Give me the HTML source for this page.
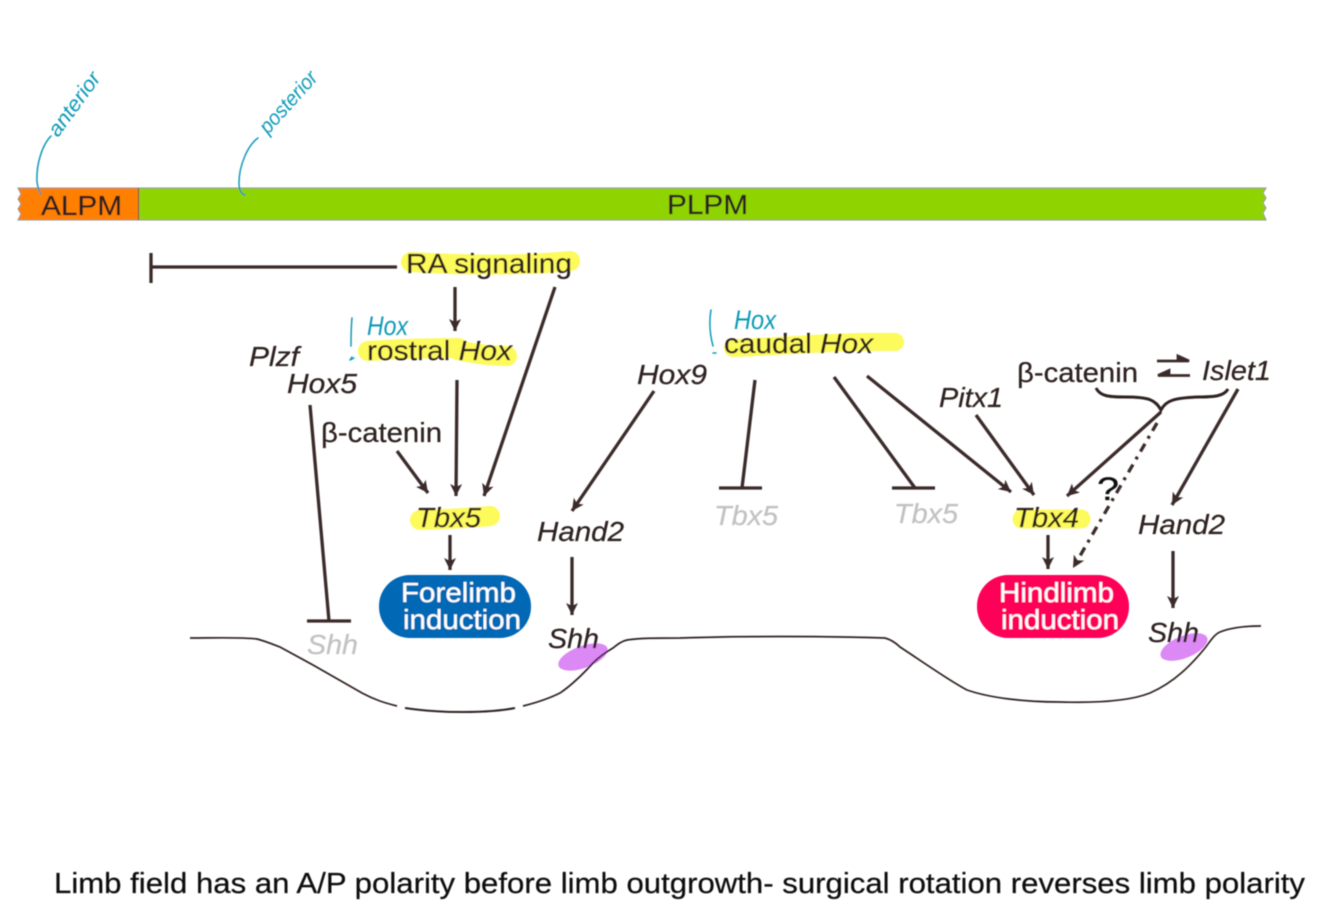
<!DOCTYPE html>
<html><head><meta charset="utf-8"><style>
html,body{margin:0;padding:0;background:#fff;width:1334px;height:922px;overflow:hidden}
svg{display:block}
text{font-family:"Liberation Sans",sans-serif;fill:#2e2220;stroke:#2e2220;stroke-width:.25}
.i{font-style:italic}
.g{fill:#c2c2c2;stroke:#c2c2c2;font-style:italic}
.w{fill:#fff;stroke:#fff}
.l{stroke:#3a2c2a;stroke-width:3.3;fill:none}
.b{stroke:#0f9ab8;stroke-width:1.5;fill:none;stroke-linecap:round;stroke-linejoin:round}
text.h{fill:#0f9ab8;stroke:none;font-style:italic}
.y{stroke:#fdfa5c;fill:none;stroke-linecap:round}
</style></head><body>
<svg width="1334" height="922" viewBox="0 0 1334 922" xmlns="http://www.w3.org/2000/svg">
<defs>
<filter id="s" x="-2%" y="-2%" width="104%" height="104%"><feGaussianBlur stdDeviation="0.55"/></filter>
<marker id="a" markerUnits="userSpaceOnUse" markerWidth="14" markerHeight="14" refX="12" refY="6" orient="auto"><path d="M0 0L12 6L0 12L3 6Z" fill="#3a2c2a"/></marker>
</defs>
<g filter="url(#s)">
<!-- bar -->
<path d="M18 188H139V220H18L21 214L18 209L21 204L18 199L21 194Z" fill="#ff7f00" stroke="#9a9288" stroke-width="1"/>
<path d="M139 188H1266L1263 193L1266 198L1263 203L1266 208L1263 213L1266 220H139Z" fill="#8fd400" stroke="#9a9288" stroke-width="1"/>
<line x1="138.500" y1="188" x2="138.500" y2="220" stroke="#7a5a20" stroke-width="1"/>
<text x="41" y="215" font-size="28" textLength="81" lengthAdjust="spacingAndGlyphs">ALPM</text>
<text x="667" y="214" font-size="28" textLength="81" lengthAdjust="spacingAndGlyphs">PLPM</text>

<!-- highlights -->
<path class="y" stroke-width="20" d="M411 262C460 265 520 266 570 261"/>
<path class="y" stroke-width="20" d="M368 351C400 349 430 348 458 348"/>
<path class="y" stroke-width="20" d="M458 350C475 354 490 356 507 356"/>
<path class="y" stroke-width="18" d="M733 348C790 346 840 341 895 342"/>
<path class="y" stroke-width="20" d="M420 520C450 519 480 517 490 516"/>
<path class="y" stroke-width="19" d="M1022 519H1081"/>

<!-- limb pills -->
<rect x="379" y="575" width="152" height="63" rx="31" fill="#0068b4"/>
<rect x="977" y="575" width="152" height="63" rx="31" fill="#ff0058"/>
<ellipse cx="583" cy="657" rx="26" ry="11" transform="rotate(-20 583 657)" fill="#dc88f5"/>
<ellipse cx="1184" cy="647" rx="25" ry="11" transform="rotate(-22 1184 647)" fill="#dc88f5"/>

<!-- RA inhibition -->
<path class="l" d="M151 267H397M151 253V283"/>
<!-- arrows -->
<path class="l" d="M455 287V331" marker-end="url(#a)"/>
<path class="l" d="M555 287L484 496" marker-end="url(#a)"/>
<path class="l" d="M457 380L456 496" marker-end="url(#a)"/>
<path class="l" d="M397 451L428 493" marker-end="url(#a)"/>
<path class="l" d="M450 535V570" marker-end="url(#a)"/>
<path class="l" d="M310 405L329 621M307 621H351"/>
<path class="l" d="M654 391L572 511" marker-end="url(#a)"/>
<path class="l" d="M572 557V615" marker-end="url(#a)"/>
<path class="l" d="M755 380L742 488M719 488H762"/>
<path class="l" d="M834 377L915 488M892 488H935"/>
<path class="l" d="M867 376L1011 492" marker-end="url(#a)"/>
<path class="l" d="M976 415L1034 495" marker-end="url(#a)"/>
<path class="l" d="M1161 412L1067 496" marker-end="url(#a)"/>
<path class="l" d="M1238 389L1172 505" marker-end="url(#a)"/>
<path class="l" d="M1048 535V569" marker-end="url(#a)"/>
<path class="l" d="M1173 551V608" marker-end="url(#a)"/>
<path d="M1157 423L1073 568" stroke="#3a2c2a" stroke-width="3.3" stroke-dasharray="9 6 3 6" fill="none" marker-end="url(#a)"/>
<!-- brace -->
<path d="M1096 388C1100 396 1108 397 1125 397C1150 397 1155 400 1161 410C1166 400 1175 398 1198 397C1215 397 1224 396 1228 389" fill="none" stroke="#2e2220" stroke-width="3"/>
<!-- equilibrium -->
<path d="M1157 361H1188M1178 356L1189 361H1178Z" stroke="#3a2c2a" stroke-width="2.800" fill="#3a2c2a"/>
<path d="M1190 375.500H1159M1169 370.500L1158 375.500H1169Z" stroke="#3a2c2a" stroke-width="2.800" fill="#3a2c2a"/>

<!-- surface -->
<path d="M190 638C215 638 240 637 257 639C265 641 272 644 280 647L313 665L362 693C375 700 385 703 397 706" fill="none" stroke="#2e2220" stroke-width="1.700"/>
<path d="M405 708C425 711 445 712 463 712C480 712 500 711 515 708" fill="none" stroke="#2e2220" stroke-width="2"/>
<path d="M523 706C535 703 548 699 560 693C572 685 583 674 593 663C600 656 606 652 613 648C618 644 622 641 627 640C640 638 655 638 680 638C740 636 820 636 885 638C892 640 896 643 900 647C920 660 945 678 967 690C990 698 1025 702 1060 702C1095 703 1130 701 1150 693C1175 682 1192 664 1205 648C1211 640 1215 634 1220 632C1230 628 1245 626 1261 626" fill="none" stroke="#2e2220" stroke-width="1.700"/>

<!-- labels -->
<text x="406" y="273" font-size="28" textLength="166" lengthAdjust="spacingAndGlyphs">RA signaling</text>
<text x="367" y="360" font-size="28" textLength="145" lengthAdjust="spacingAndGlyphs">rostral <tspan class="i">Hox</tspan></text>
<text x="724" y="353" font-size="28" textLength="149" lengthAdjust="spacingAndGlyphs">caudal <tspan class="i">Hox</tspan></text>
<text x="249" y="366" font-size="28" class="i" textLength="50" lengthAdjust="spacingAndGlyphs">Plzf</text>
<text x="287" y="393" font-size="28" class="i" textLength="70" lengthAdjust="spacingAndGlyphs">Hox5</text>
<text x="637" y="384" font-size="28" class="i" textLength="70" lengthAdjust="spacingAndGlyphs">Hox9</text>
<text x="321" y="442" font-size="28" textLength="121" lengthAdjust="spacingAndGlyphs">β-catenin</text>
<text x="1017" y="382" font-size="28" textLength="121" lengthAdjust="spacingAndGlyphs">β-catenin</text>
<text x="1202" y="380" font-size="28" class="i" textLength="69" lengthAdjust="spacingAndGlyphs">Islet1</text>
<text x="939" y="407" font-size="28" class="i" textLength="64" lengthAdjust="spacingAndGlyphs">Pitx1</text>
<text x="416" y="527" font-size="28" class="i" textLength="65" lengthAdjust="spacingAndGlyphs">Tbx5</text>
<text x="1014" y="527" font-size="28" class="i" textLength="65" lengthAdjust="spacingAndGlyphs">Tbx4</text>
<text x="714" y="525" font-size="28" class="g" textLength="64" lengthAdjust="spacingAndGlyphs">Tbx5</text>
<text x="894" y="523" font-size="28" class="g" textLength="64" lengthAdjust="spacingAndGlyphs">Tbx5</text>
<text x="537" y="541" font-size="28" class="i" textLength="87" lengthAdjust="spacingAndGlyphs">Hand2</text>
<text x="1138" y="534" font-size="28" class="i" textLength="87" lengthAdjust="spacingAndGlyphs">Hand2</text>
<text x="307" y="654" font-size="28" class="g" textLength="51" lengthAdjust="spacingAndGlyphs">Shh</text>
<text x="548" y="648" font-size="28" class="i" textLength="51" lengthAdjust="spacingAndGlyphs">Shh</text>
<text x="1148" y="642" font-size="28" class="i" textLength="51" lengthAdjust="spacingAndGlyphs">Shh</text>
<text x="401" y="602" font-size="28" class="w" textLength="115" lengthAdjust="spacingAndGlyphs">Forelimb</text>
<text x="403" y="629" font-size="28" class="w" textLength="118" lengthAdjust="spacingAndGlyphs">induction</text>
<text x="999" y="602" font-size="28" class="w" textLength="115" lengthAdjust="spacingAndGlyphs">Hindlimb</text>
<text x="1001" y="629" font-size="28" class="w" textLength="118" lengthAdjust="spacingAndGlyphs">induction</text>
<text x="1097" y="500" font-size="32" style="fill:#111;stroke:#111" textLength="22" lengthAdjust="spacingAndGlyphs">?</text>
<text x="54" y="893" font-size="29" style="fill:#111;stroke:#111" textLength="1251" lengthAdjust="spacingAndGlyphs">Limb field has an A/P polarity before limb outgrowth- surgical rotation reverses limb polarity</text>

<!-- handwriting -->
<text class="h" font-size="21" transform="translate(58 138) rotate(-54)" textLength="74" lengthAdjust="spacingAndGlyphs">anterior</text>
<text class="h" font-size="21" transform="translate(268 135) rotate(-48)" textLength="76" lengthAdjust="spacingAndGlyphs">posterior</text>
<text class="h" font-size="27" x="367" y="335" textLength="41" lengthAdjust="spacingAndGlyphs">Hox</text>
<text class="h" font-size="27" x="734" y="329" textLength="42" lengthAdjust="spacingAndGlyphs">Hox</text>
<g class="b">
<path d="M51 136C42 145 36 165 37 182C38 188 39 192 41 194"/>
<path d="M258 138C248 145 239 165 239 183C239 190 241 194 245 195"/>
<path d="M352 318C351 328 351 338 351 346M352 357L350 360L354 358"/>
<path d="M711 310C709 322 710 335 713 346M713 353H716"/>
</g>
</g>
</svg>
</body></html>
